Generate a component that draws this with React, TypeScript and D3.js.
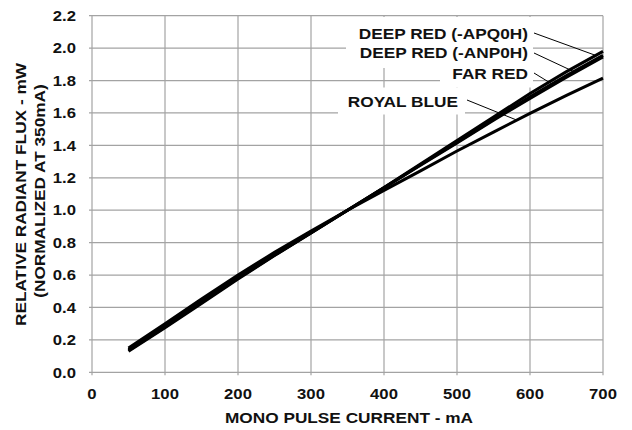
import React from "react";
import * as d3 from "d3";

const currents = [50, 100, 150, 200, 250, 300, 350, 400, 450, 500, 550, 600, 650, 700];
const deepRedAPQ0H = [0.14, 0.285, 0.435, 0.585, 0.725, 0.862, 1.0, 1.14, 1.285, 1.43, 1.575, 1.72, 1.855, 1.98];
const deepRedANP0H = [0.135, 0.28, 0.43, 0.58, 0.722, 0.86, 1.0, 1.138, 1.28, 1.42, 1.56, 1.7, 1.83, 1.955];
const farRed = [0.13, 0.275, 0.425, 0.575, 0.72, 0.86, 1.0, 1.138, 1.277, 1.415, 1.555, 1.69, 1.82, 1.945];
const royalBlue = [0.15, 0.3, 0.452, 0.6, 0.74, 0.872, 1.0, 1.122, 1.243, 1.365, 1.482, 1.597, 1.708, 1.815];

const seriesNames = ["DEEP RED (-APQ0H)", "DEEP RED (-ANP0H)", "FAR RED", "ROYAL BLUE"];
const seriesValues = [deepRedAPQ0H, deepRedANP0H, farRed, royalBlue];
const leaderCurrents = [690, 660, 632, 582];

const xTicks = [0, 100, 200, 300, 400, 500, 600, 700];
const yTicks = [0.0, 0.2, 0.4, 0.6, 0.8, 1.0, 1.2, 1.4, 1.6, 1.8, 2.0, 2.2];

const xTitle = "MONO PULSE CURRENT - mA";
const yTitle1 = "RELATIVE RADIANT FLUX - mW";
const yTitle2 = "(NORMALIZED AT 350mA)";

const W = 632, H = 430;
const L = 92, R = 603, T = 15.7, B = 372.3;
const SX = 1.15;
const FONT = "'Liberation Sans', Arial, Helvetica, sans-serif";
const GRID = "#a3a3a3";

function Txt({ x, y, anchor = "start", size = 15, rotate = false, children }: any) {
  return (
    <text
      transform={`translate(${x},${y})${rotate ? " rotate(-90)" : ""} scale(${SX},1)`}
      textAnchor={anchor}
      fontFamily={FONT}
      fontWeight="bold"
      fontSize={size}
      fill="#111"
    >
      {children}
    </text>
  );
}

export default function App() {
  const x = d3.scaleLinear().domain([0, 700]).range([L, R]);
  const y = d3.scaleLinear().domain([0, 2.2]).range([B, T]);
  const line = d3
    .line<number>()
    .x((_, i) => x(currents[i]))
    .y((v) => y(v));

  const interp = (vals: number[], c: number) => {
    const i = d3.bisectRight(currents, c) - 1;
    const j = Math.min(i + 1, currents.length - 1);
    if (i === j) return vals[i];
    const t = (c - currents[i]) / (currents[j] - currents[i]);
    return vals[i] + t * (vals[j] - vals[i]);
  };

  // label layout: right edge, baseline
  const labelPos = [
    { tx: 528, ty: 38.5, lx: 534, ly: 33 },
    { tx: 528, ty: 58.3, lx: 534, ly: 53 },
    { tx: 528, ty: 79, lx: 534, ly: 73 },
    { tx: 458, ty: 106.7, lx: 467, ly: 100 },
  ];
  const boxes = [
    { x0: 346, x1: 533, y0: 17, y1: 68 },
    { x0: 440, x1: 533, y0: 68, y1: 87.5 },
    { x0: 338, x1: 465, y0: 87.5, y1: 114.5 },
  ];

  return (
    <svg width={W} height={H} style={{ position: "absolute", left: 0, top: 0, background: "#fff" }}>
      <rect x={0} y={0} width={W} height={H} fill="#fff" />
      {/* grid */}
      {xTicks.map((t) => (
        <line key={"gx" + t} x1={x(t)} x2={x(t)} y1={T} y2={B + 3} stroke={GRID} strokeWidth={1.2} />
      ))}
      {yTicks.map((t) => (
        <line key={"gy" + t} x1={L - 3} x2={R} y1={y(t)} y2={y(t)} stroke={GRID} strokeWidth={1.2} />
      ))}
      {/* label backgrounds */}
      {boxes.map((b, i) => (
        <rect key={"b" + i} x={b.x0} y={b.y0} width={b.x1 - b.x0} height={b.y1 - b.y0} fill="#fff" />
      ))}
      {/* curves */}
      {seriesValues.map((vals, i) => (
        <path key={"s" + i} d={line(vals) || ""} fill="none" stroke="#000" strokeWidth={3} />
      ))}
      {/* leaders */}
      {seriesValues.map((vals, i) => (
        <line
          key={"ld" + i}
          x1={labelPos[i].lx}
          y1={labelPos[i].ly}
          x2={x(leaderCurrents[i])}
          y2={y(interp(vals, leaderCurrents[i]))}
          stroke="#000"
          strokeWidth={1}
        />
      ))}
      {seriesNames.map((n, i) => (
        <Txt key={"lb" + i} x={labelPos[i].tx} y={labelPos[i].ty} anchor="end">
          {n}
        </Txt>
      ))}
      {/* tick labels */}
      {yTicks.map((t) => (
        <Txt key={"yl" + t} x={76} y={y(t) + 5.2} anchor="end" size={14.5}>
          {t.toFixed(1)}
        </Txt>
      ))}
      {xTicks.map((t) => (
        <Txt key={"xl" + t} x={x(t)} y={399} anchor="middle" size={14.5}>
          {String(t)}
        </Txt>
      ))}
      <Txt x={349} y={422.5} anchor="middle" size={15}>
        {xTitle}
      </Txt>
      <Txt x={26} y={194.5} anchor="middle" size={15} rotate>
        {yTitle1}
      </Txt>
      <Txt x={44.5} y={191} anchor="middle" size={15} rotate>
        {yTitle2}
      </Txt>
    </svg>
  );
}
